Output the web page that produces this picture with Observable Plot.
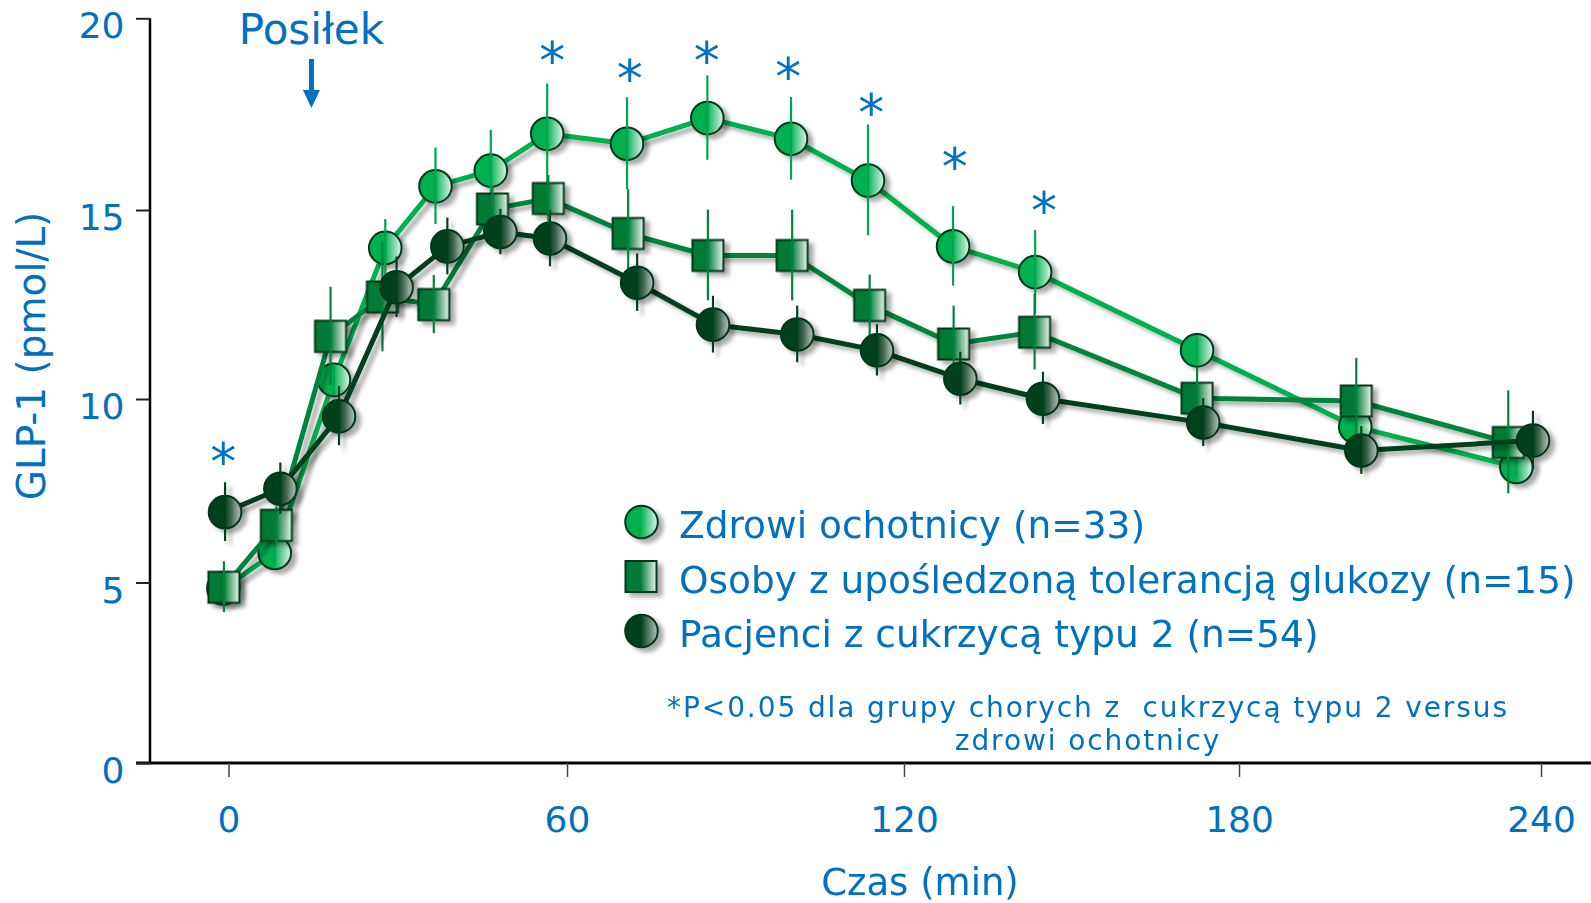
<!DOCTYPE html>
<html><head><meta charset="utf-8">
<script src="https://cdn.jsdelivr.net/npm/d3@7"></script>
<script src="https://cdn.jsdelivr.net/npm/@observablehq/plot@0.6"></script>
<style>html,body{margin:0;padding:0;background:#fff;} svg{display:block;}</style>
</head><body><div id="chart"></div>
<script>
// ---- data ----
const xTicks = [0, 60, 120, 180, 240];
const yTicks = [0, 5, 10, 15, 20];
const seriesNames = ["Zdrowi ochotnicy (n=33)", "Osoby z upośledzoną tolerancją glukozy (n=15)", "Pacjenci z cukrzycą typu 2 (n=54)"];

const timesH = [-1, 8.1, 18.6, 27.7, 36.6, 46.4, 56.4, 70.6, 84.9, 99.8, 113.5, 128.7, 143.4, 172.4, 203.0, 235.0];
const valsH  = [4.85, 5.82, 10.52, 14.01, 15.63, 16.04, 17.0, 16.74, 17.41, 16.87, 15.78, 14.05, 13.37, 11.30, 9.26, 8.16];
const seH    = [0.3, 0.3, 0.4, 0.75, 1.0, 1.05, 1.3, 1.2, 1.1, 1.08, 1.45, 1.05, 1.1, 0.3, 0.3, 0.3];

const timesI = [-0.9, 8.4, 18.0, 27.2, 36.3, 46.7, 56.6, 70.8, 85.0, 100.0, 113.8, 128.8, 143.3, 172.4, 203.2, 233.4];
const valsI  = [4.88, 6.57, 11.67, 12.71, 12.51, 15.04, 15.31, 14.39, 13.81, 13.81, 12.49, 11.47, 11.78, 10.03, 9.96, 8.83];
const seI    = [0.7, 0.5, 1.3, 1.45, 0.77, 0.6, 0.6, 1.15, 1.2, 1.2, 0.8, 1.0, 1.0, 0.82, 1.13, 1.4];

const timesT = [-0.7, 9.1, 19.5, 29.7, 38.7, 48.1, 56.9, 72.4, 85.9, 100.9, 115.1, 130.0, 144.8, 173.5, 204.2, 238.3];
const valsT  = [6.93, 7.57, 9.54, 12.97, 14.05, 14.43, 14.26, 13.09, 11.98, 11.72, 11.30, 10.55, 10.02, 9.37, 8.61, 8.88];
const seT    = [0.8, 0.7, 0.8, 0.8, 0.75, 0.6, 0.75, 0.76, 0.75, 0.75, 0.68, 0.7, 0.7, 0.65, 0.65, 0.8];

const sigTimes = [-1, 57.3, 71.1, 84.8, 99.3, 114.1, 129.0, 145.0];
const sigY     = [8.5, 19.11, 18.63, 19.11, 18.67, 17.74, 16.33, 15.19];

const footnote = ["*P<0.05 dla grupy chorych z  cukrzycą typu 2 versus", "zdrowi ochotnicy"];
const yLabel = "GLP-1 (pmol/L)";
const xLabel = "Czas (min)";
const mealLabel = "Posiłek";
const mealTime = 14.7;

// ---- layout ----
const W = 1591, H = 903;
const xRange = [228.5, 567, 904, 1239, 1541];
const yRange = [763, 582.5, 399, 210, 18.3];
const blue = "#0070c0";
const font = "DejaVu Sans";

const rows = (t, v, se) => t.map((d, i) => ({t: d, v: v[i], lo: v[i] - se[i], hi: v[i] + se[i]}));
const series = [
  {data: rows(timesH, valsH, seH), line: "#00b050", bar: "#00a64f", grad: "gH", symbol: "circle", r: 16.3},
  {data: rows(timesI, valsI, seI), line: "#00843d", bar: "#00843d", grad: "gI", symbol: "square", r: 17.5},
  {data: rows(timesT, valsT, seT), line: "#003f1d", bar: "#003f1d", grad: "gT", symbol: "circle", r: 16.3}
];
const sig = sigTimes.map((t, i) => ({t, v: sigY[i]}));

const marks = [];
for (const s of series) {
  marks.push(Plot.line(s.data, {x: "t", y: "v", stroke: s.line, strokeWidth: 5, strokeLinejoin: "round"}));
  marks.push(Plot.dot(s.data, {x: "t", y: "v", symbol: s.symbol, r: s.r, fill: `url(#${s.grad})`, stroke: "#00391a", strokeWidth: 2}));
  marks.push(Plot.ruleX(s.data, {x: "t", y1: "lo", y2: "hi", stroke: s.bar, strokeWidth: 2.2}));
}
marks.push(Plot.text(sig, {x: "t", y: "v", text: d => "*", fill: blue, fontSize: 52, dy: 9}));
marks.push(Plot.axisX(xTicks, {anchor: "bottom", tickSize: 14, tickPadding: 29, fontSize: 36, fill: blue, stroke: "#444", strokeWidth: 1.5, label: null}));
marks.push(Plot.axisY(yTicks, {anchor: "left", tickSize: 14, fill: "none", stroke: "#222", strokeWidth: 2, label: null}));
marks.push(Plot.axisY(yTicks, {anchor: "left", tickSize: 0, tickPadding: 26, dy: 8, fontSize: 36, fill: blue, stroke: "none", label: null}));

const plot = Plot.plot({
  width: W, height: H,
  marginLeft: 150, marginRight: 0, marginTop: 18, marginBottom: 140,
  style: {fontFamily: font, background: "#fff", color: blue},
  x: {type: "linear", domain: xTicks, range: xRange},
  y: {type: "linear", domain: yTicks, range: yRange},
  marks
});
document.getElementById("chart").appendChild(plot);

// ---- defs: gradients + shadow ----
const svg = d3.select(plot);
const defs = svg.insert("defs", ":first-child");
function grad(id, base, light) {
  const g = defs.append("linearGradient").attr("id", id).attr("x1", 0).attr("x2", 1).attr("y1", 0).attr("y2", 0);
  g.append("stop").attr("offset", "0%").attr("stop-color", base);
  g.append("stop").attr("offset", "48%").attr("stop-color", base);
  g.append("stop").attr("offset", "100%").attr("stop-color", light);
}
grad("gH", "#00b050", "#e2f6e9");
grad("gI", "#007a35", "#eef5f0");
grad("gT", "#003f1d", "#b9c2bb");
const f = defs.append("filter").attr("id", "sh").attr("x", "-20%").attr("y", "-20%").attr("width", "150%").attr("height", "150%");
f.append("feDropShadow").attr("dx", 5).attr("dy", 4).attr("stdDeviation", 2).attr("flood-color", "#000").attr("flood-opacity", 0.33);
svg.selectAll('g[aria-label="line"], g[aria-label="dot"]').attr("filter", "url(#sh)");
const ruleGroups = svg.selectAll('g[aria-label="rule"]').nodes();
if (ruleGroups[2]) d3.select(ruleGroups[2]).attr("filter", "url(#sh)");

// ---- axis lines ----
const xs = v => plot.scale("x").apply(v);
const ys = v => plot.scale("y").apply(v);
const axes = svg.insert("g", "g");
axes.append("line").attr("x1", 136).attr("x2", W).attr("y1", ys(0)).attr("y2", ys(0)).attr("stroke", "#000").attr("stroke-width", 3);
axes.append("line").attr("x1", 150).attr("x2", 150).attr("y1", ys(20)).attr("y2", ys(0) + 1).attr("stroke", "#000").attr("stroke-width", 2.5);

// ---- annotations ----
const ann = svg.append("g").attr("font-family", font).attr("fill", blue).attr("text-anchor", "start");
const mx = xs(mealTime);
ann.append("text").attr("x", mx).attr("y", 44).attr("text-anchor", "middle").attr("font-size", 42).text(mealLabel);
ann.append("rect").attr("x", mx - 2.5).attr("y", 59).attr("width", 5).attr("height", 33);
ann.append("path").attr("d", `M${mx - 8.5},90L${mx + 8.5},90L${mx},108Z`);

ann.append("text").attr("transform", "translate(45,356) rotate(-90)").attr("text-anchor", "middle").attr("font-size", 39).text(yLabel);
ann.append("text").attr("x", 920).attr("y", 895).attr("text-anchor", "middle").attr("font-size", 37).text(xLabel);

// legend
const legY = [522, 576.5, 631];
const leg = svg.append("g");
leg.append("circle").attr("cx", 641.5).attr("cy", legY[0]).attr("r", 16.3).attr("fill", "url(#gH)").attr("stroke", "#00391a").attr("stroke-width", 2).attr("filter", "url(#sh)");
leg.append("rect").attr("x", 625.5).attr("y", legY[1] - 15.5).attr("width", 31).attr("height", 31).attr("fill", "url(#gI)").attr("stroke", "#00391a").attr("stroke-width", 2).attr("filter", "url(#sh)");
leg.append("circle").attr("cx", 641.5).attr("cy", legY[2]).attr("r", 16.3).attr("fill", "url(#gT)").attr("stroke", "#00391a").attr("stroke-width", 2).attr("filter", "url(#sh)");
seriesNames.forEach((n, i) => {
  ann.append("text").attr("x", 679).attr("y", legY[i] + 16).attr("text-anchor", "start").attr("font-size", 37.5).text(n);
});

// footnote
footnote.forEach((t, i) => {
  ann.append("text").attr("x", 1088).attr("y", 717 + i * 33).attr("text-anchor", "middle").attr("font-size", 28)
    .attr("letter-spacing", 1.9).style("white-space", "pre").text(t);
});
</script></body></html>
